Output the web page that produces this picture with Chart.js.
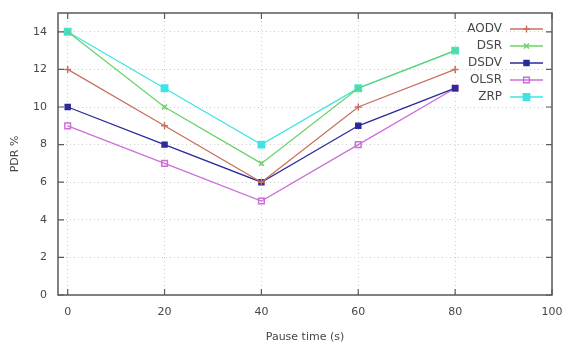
<!DOCTYPE html>
<html>
<head>
<meta charset="utf-8">
<script src="https://cdn.jsdelivr.net/npm/chart.js@4/dist/chart.umd.min.js"></script>
<style>
  html, body { margin: 0; padding: 0; background: #fff; }
  #wrap { width: 570px; height: 347px; }
</style>
</head>
<body>
<div id="wrap"><canvas id="pdrchart"></canvas></div>
<script>
/* Data */
const pauseTimes = [0, 20, 40, 60, 80];
const aodv = [12, 9, 6, 10, 12];
const dsr  = [14, 10, 7, 11, 13];
const dsdv = [10, 8, 6, 9, 11];
const olsr = [9, 7, 5, 8, 11];
const zrp  = [14, 11, 8, 11, 13];

const xTicks = [0, 20, 40, 60, 80, 100];
const yTicks = [0, 2, 4, 6, 8, 10, 12, 14];

const textColor = '#474747';

function series(label, values, color, style, radius, filled){
    return {
        label: label,
        data: pauseTimes.map((t, i) => ({x: t, y: values[i]})),
        borderColor: color,
        backgroundColor: filled ? color : '#ffffff',
        pointBorderColor: color,
        pointBackgroundColor: filled ? color : 'rgba(255,255,255,0)',
        pointStyle: style,
        pointRadius: radius,
        pointBorderWidth: 1.5,
        borderWidth: 1.3,
        fill: false,
        tension: 0
    };
}

// gnuplot-like frame: full border box with inward ticks on all four sides
const frameTicks = {
    id: 'frameTicks',
    afterDraw(chart){
        const {ctx, chartArea: a, scales} = chart;
        ctx.save();
        ctx.strokeStyle = '#5a5a5a';
        ctx.lineWidth = 1.5;
        ctx.strokeRect(a.left, a.top, a.right - a.left, a.bottom - a.top);
        ctx.lineWidth = 1.2;
        ctx.beginPath();
        xTicks.forEach(v => {
            const px = scales.x.getPixelForValue(v);
            ctx.moveTo(px, a.bottom); ctx.lineTo(px, a.bottom - 6);
            ctx.moveTo(px, a.top); ctx.lineTo(px, a.top + 6);
        });
        yTicks.forEach(v => {
            const py = scales.y.getPixelForValue(v);
            ctx.moveTo(a.left, py); ctx.lineTo(a.left + 6, py);
            ctx.moveTo(a.right, py); ctx.lineTo(a.right - 6, py);
        });
        ctx.stroke();
        ctx.restore();
    }
};

// key drawn inside the plot, top right, text right-aligned before the sample line
const insideKey = {
    id: 'insideKey',
    afterDatasetsDraw(chart){
        const ctx = chart.ctx;
        const a = chart.chartArea;
        const textRight = a.right - 50;
        const lineLeft = a.right - 42;
        const lineRight = a.right - 9;
        ctx.save();
        ctx.font = '12px "DejaVu Sans", sans-serif';
        ctx.textAlign = 'right';
        ctx.textBaseline = 'middle';
        chart.data.datasets.forEach((ds, i) => {
            const y = a.top + 16 + i * 17;
            ctx.fillStyle = textColor;
            ctx.fillText(ds.label, textRight, y);
            ctx.strokeStyle = ds.borderColor;
            ctx.lineWidth = ds.borderWidth;
            ctx.beginPath();
            ctx.moveTo(lineLeft, y); ctx.lineTo(lineRight, y);
            ctx.stroke();
            ctx.fillStyle = ds.pointBackgroundColor;
            ctx.lineWidth = ds.pointBorderWidth;
            Chart.helpers.drawPoint(ctx, {pointStyle: ds.pointStyle, radius: ds.pointRadius, rotation: 0, borderWidth: ds.pointBorderWidth}, (lineLeft + lineRight) / 2, y);
        });
        ctx.restore();
    }
};

new Chart('pdrchart', {
    type: 'line',
    data: {
        datasets: [
            series('AODV', aodv, '#c8705e', 'cross', 3.5, true),
            series('DSR',  dsr,  '#6ad46a', 'crossRot', 3.5, true),
            series('DSDV', dsdv, '#2a2a9a', 'rect', 3.5, true),
            series('OLSR', olsr, '#cc6fd8', 'rect', 4, false),
            series('ZRP',  zrp,  '#3fe3e3', 'rect', 4.5, true)
        ]
    },
    options: {
        responsive: true,
        maintainAspectRatio: false,
        animation: false,
        layout: { padding: { top: 13, right: 18, left: 0, bottom: 0 } },
        plugins: {
            legend: { display: false },
            tooltip: { enabled: false }
        },
        scales: {
            x: {
                type: 'linear',
                min: -2,
                max: 100,
                afterBuildTicks: (scale) => { scale.ticks = xTicks.map(v => ({value: v})); },
                afterFit: (scale) => { scale.height = 52; scale.paddingLeft = 0; scale.paddingRight = 0; },
                border: { display: false, dash: [1, 3] },
                grid: { color: '#cfcfcf', drawTicks: false, lineWidth: 1 },
                ticks: { color: textColor, padding: 11, maxRotation: 0, font: { family: 'DejaVu Sans', size: 11 } },
                title: { display: true, text: 'Pause time (s)', color: textColor, padding: { top: 4, bottom: 3 }, font: { family: 'DejaVu Sans', size: 11 } }
            },
            y: {
                min: 0,
                max: 15,
                afterBuildTicks: (scale) => { scale.ticks = yTicks.map(v => ({value: v})); },
                afterFit: (scale) => { scale.width = 58; scale.paddingTop = 0; scale.paddingBottom = 0; },
                border: { display: false, dash: [1, 3] },
                grid: { color: '#cfcfcf', drawTicks: false, lineWidth: 1 },
                ticks: { color: textColor, padding: 11, font: { family: 'DejaVu Sans', size: 11 } },
                title: { display: true, text: 'PDR %', color: textColor, padding: { top: 9, bottom: 4 }, font: { family: 'DejaVu Sans', size: 11 } }
            }
        }
    },
    plugins: [frameTicks, insideKey]
});
</script>
</body>
</html>
